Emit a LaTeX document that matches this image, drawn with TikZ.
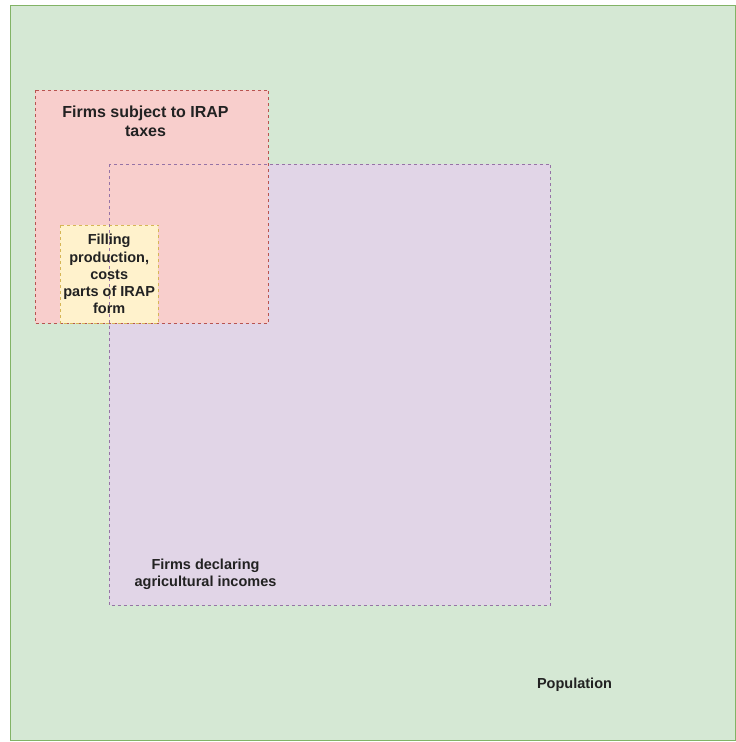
\documentclass[tikz,border=0pt]{standalone}
\usepackage{fontspec}
\setmainfont{Liberation Sans}
\definecolor{popfill}{HTML}{D5E8D4}
\definecolor{popline}{HTML}{82B366}
\definecolor{irapfill}{HTML}{F8CECC}
\definecolor{irapline}{HTML}{B85450}
\definecolor{agrifill}{HTML}{E1D5E7}
\definecolor{agriline}{HTML}{9673A6}
\definecolor{formfill}{HTML}{FFF2CC}
\definecolor{formline}{HTML}{D6B656}
\definecolor{txt}{HTML}{222222}

\begin{document}
\begin{tikzpicture}[x=1pt, y=-1pt,
    box/.style = {rectangle, inner sep=0pt, anchor=north west},
    edge/.style = {dash pattern=on 3pt off 3pt, line width=0.8pt},
    lbl/.style = {font=\bfseries\fontsize{14.5}{17.3}\selectfont, align=center, text=txt, inner sep=0pt}]
        \useasboundingbox (0,0) rectangle (736,742);
        % fills
        \node[box, fill=popfill, draw=popline, line width=0.8pt, minimum width=725pt, minimum height=735pt] (pop) at (10,5) {};
        \node[box, fill=agrifill, minimum width=441pt, minimum height=441pt] (agri) at (109,164) {};
        \node[box, fill=irapfill, minimum width=233pt, minimum height=233pt] (irap) at (35,90) {};
        \node[box, fill=formfill, minimum width=98pt, minimum height=98pt] (form) at (60,225) {};
        % dashed borders
        \draw[edge, irapline] (irap.north west) rectangle (irap.south east);
        \draw[edge, formline] (form.north west) rectangle (form.south east);
        \draw[edge, agriline] (agri.north west) rectangle (agri.south east);
        % labels
        \node[lbl, font=\bfseries\fontsize{16}{19}\selectfont] (iraplbl) at (145.5,121.5) {Firms subject to IRAP\\taxes};
        \node[lbl] (formlbl) at (form.center) {Filling\\production,\\costs\\parts of IRAP\\form};
        \node[lbl] (agrilbl) at (205.5,574) {Firms declaring\\agricultural incomes};
        \node[lbl] (poplbl) at (574.5,685) {Population};
    \end{tikzpicture}
\end{document}
